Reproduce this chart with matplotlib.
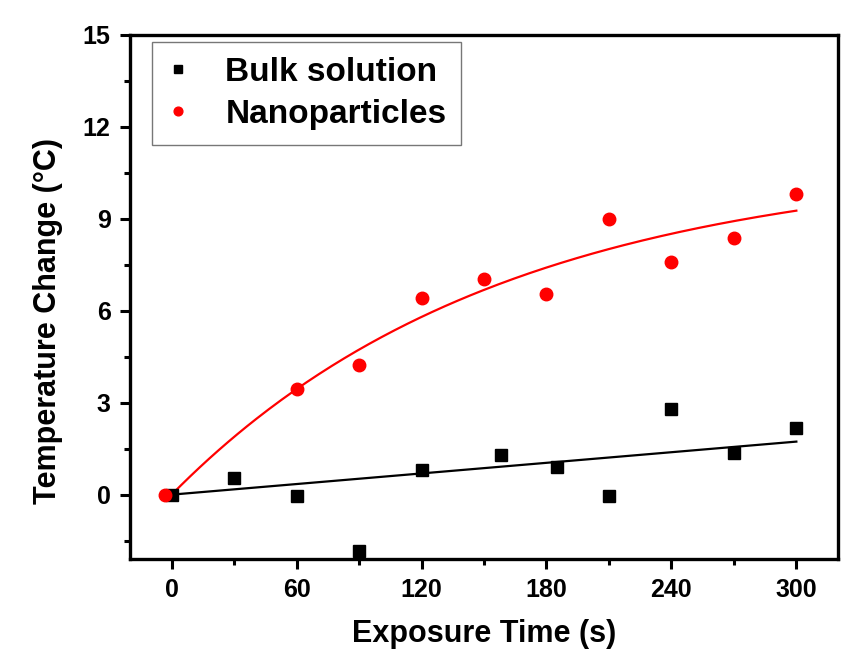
import numpy as np
import matplotlib
matplotlib.use("Agg")
import matplotlib.pyplot as plt
from matplotlib.ticker import MultipleLocator

plt.rcParams['font.family'] = ['Liberation Sans', 'DejaVu Sans']
plt.rcParams['font.weight'] = 'bold'

# Data
bulk_x = [0, 30, 60, 90, 120, 158, 185, 210, 240, 270, 300]
bulk_y = [0.0, 0.55, -0.05, -1.85, 0.8, 1.3, 0.9, -0.03, 2.8, 1.37, 2.18]

nano_x = [-3, 60, 90, 120, 150, 180, 210, 240, 270, 300]
nano_y = [0.0, 3.46, 4.24, 6.42, 7.04, 6.55, 9.0, 7.6, 8.38, 9.81]

# Fit parameters
bulk_slope = 0.00577            # linear fit, through origin
nano_amp, nano_tau = 10.9, 158  # y = A * (1 - exp(-x / tau))
fit_x_range = (0, 300)

xticks = [0, 60, 120, 180, 240, 300]
yticks = [0, 3, 6, 9, 12, 15]

fig = plt.figure(figsize=(8.48, 6.53), dpi=100)
ax = fig.add_axes([130/848, 1 - 559/653, (838-130)/848, (559-35)/653])

xf = np.linspace(fit_x_range[0], fit_x_range[1], 200)
ax.plot(xf, bulk_slope * xf, color='black', lw=1.6, zorder=2)
ax.plot(xf, nano_amp * (1 - np.exp(-xf / nano_tau)), color='#ff0000', lw=1.6, zorder=2)

ax.plot(bulk_x, bulk_y, 's', color='black', ms=8, label='Bulk solution', zorder=3)
ax.plot(nano_x, nano_y, 'o', color='#ff0000', ms=9, label='Nanoparticles', zorder=3)

ax.set_xlim(-20, 320)
ax.set_ylim(-2.1, 15)
ax.set_xticks(xticks)
ax.set_yticks(yticks)
ax.xaxis.set_minor_locator(MultipleLocator(30))
ax.yaxis.set_minor_locator(MultipleLocator(1.5))

for s in ax.spines.values():
    s.set_linewidth(2.4)
ax.tick_params(which='major', direction='out', length=7, width=2.2, labelsize=18, pad=7)
ax.tick_params(which='minor', direction='out', length=4.5, width=2.2)
ax.tick_params(top=False, right=False)
for lab in ax.get_xticklabels() + ax.get_yticklabels():
    lab.set_fontweight('bold')

ax.set_xlabel('Exposure Time (s)', fontsize=22, fontweight='bold', labelpad=12)
ax.set_ylabel('Temperature Change (\u00b0C)', fontsize=22, fontweight='bold')
ax.yaxis.set_label_coords(-0.095, 0.455)

leg = ax.legend(loc='upper left', bbox_to_anchor=(22/708, 1 - 7/524), borderaxespad=0,
                fontsize=24, frameon=True, fancybox=False, edgecolor='#555555',
                markerscale=0.7, handlelength=0.66, handletextpad=1.09,
                borderpad=0.45, labelspacing=0.33)
leg.get_frame().set_linewidth(1.0)
for t in leg.get_texts():
    t.set_fontweight('bold')

fig.savefig('out.png', dpi=100, facecolor='white')
